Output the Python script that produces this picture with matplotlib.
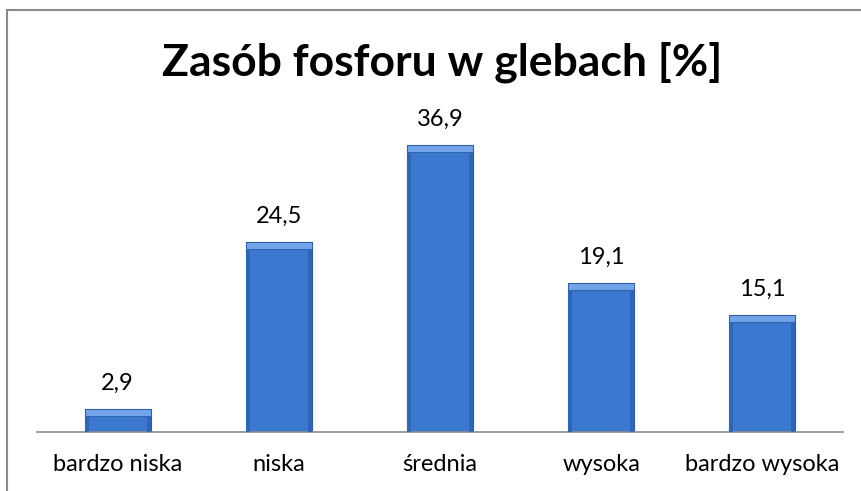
import matplotlib.pyplot as plt
from matplotlib.patches import Rectangle

# data
categories = ['bardzo niska', 'niska', 'średnia', 'wysoka', 'bardzo wysoka']
values = [2.9, 24.5, 36.9, 19.1, 15.1]
value_labels = ['2,9', '24,5', '36,9', '19,1', '15,1']

plt.rcParams['font.family'] = ['Lato', 'DejaVu Sans']

W, H = 861, 491
fig = plt.figure(figsize=(W / 100, H / 100), dpi=100)

# outer chart border (runs off the right/bottom edge in the reference)
fig.patches.append(Rectangle((7 / W, -0.1), 1.2, 1 - 10 / H + 0.1,
                             transform=fig.transFigure, fill=False,
                             edgecolor='#8a8a8a', linewidth=1.5))

ax = fig.add_axes([37 / W, (H - 432) / H, (843 - 37) / W, (432 - 100) / H])
x = range(len(categories))
bars = ax.bar(x, values, width=0.41, color='#3b78d0', edgecolor='#2b5aa3',
              linewidth=0.8, zorder=2)

# bevel: light strip on top, darker strips along the sides
for b in bars:
    cx = b.get_x() + b.get_width() / 2
    w = b.get_width()
    h = b.get_height()
    ax.bar(cx, 0.9, width=w, bottom=h - 0.9, color='#72a3e8',
           edgecolor='#2b5aa3', linewidth=0.6, zorder=3)
    ax.bar(b.get_x(), h - 0.9, width=w * 0.06, align='edge',
           color='#2f66b8', linewidth=0, zorder=3)
    ax.bar(b.get_x() + w, h - 0.9, width=-w * 0.06, align='edge',
           color='#2f66b8', linewidth=0, zorder=3)

for xi, v, lab in zip(x, values, value_labels):
    ax.text(xi, v + 3.3, lab, ha='center', va='center', fontsize=17)

ax.set_xlim(-0.5, len(categories) - 0.5)
ax.set_ylim(0, 42.7)
ax.set_xticks(list(x))
ax.set_xticklabels(categories, fontsize=17)
ax.tick_params(axis='x', length=0, pad=16)
ax.set_yticks([])
for s in ['top', 'left', 'right']:
    ax.spines[s].set_visible(False)
ax.spines['bottom'].set_color('#8a8a8a')
ax.spines['bottom'].set_linewidth(1.2)
ax.patch.set_visible(False)

fig.text(442 / W, 1 - 62 / H, 'Zasób fosforu w glebach [%]', ha='center',
         va='center', fontsize=32, fontweight='bold')

fig.savefig('out.png', dpi=100)
